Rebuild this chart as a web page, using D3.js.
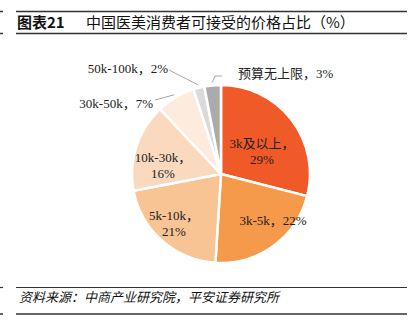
<!DOCTYPE html>
<html><head><meta charset="utf-8">
<script src="https://cdn.jsdelivr.net/npm/d3@7"></script>
<style>body{margin:0;background:#fff}svg{display:block}</style>
</head><body>
<svg id="c" width="413" height="323"></svg>
<script>
const categories = ["3k及以上","3k-5k","5k-10k","10k-30k","30k-50k","50k-100k","预算无上限"];
const values = [29,22,21,16,7,2,3];
const colors = ["#F05A28","#F5994B","#F8C494","#FAD9BF","#FDEBDD","#DADADA","#ABABAB"];

const svg = d3.select("#c");
const cx = 221, cy = 174, R = 89;
const serif = "'Liberation Serif','Noto Sans CJK SC',serif";
const cjk = "'Noto Sans CJK SC','Noto Sans',sans-serif";

// title block
const lineCol = "#333";
[[11.5,1.5],[33.5,1.5],[287.5,1.2],[314,1.5]].forEach(([y,w])=>{
  svg.append("line").attr("x1",16).attr("x2",407).attr("y1",y).attr("y2",y).attr("stroke",lineCol).attr("stroke-width",w);
  svg.append("line").attr("x1",0).attr("x2",3).attr("y1",y).attr("y2",y).attr("stroke",lineCol).attr("stroke-width",w);
});
const t = svg.append("text").attr("y",28).attr("font-family",cjk).attr("font-size",15).attr("fill","#111");
t.append("tspan").attr("x",17).attr("font-weight","bold").text("图表21");
t.append("tspan").attr("x",86).text("中国医美消费者可接受的价格占比（%）");

svg.append("text").attr("x",19).attr("y",302).attr("font-family",cjk).attr("font-size",13)
  .attr("font-style","italic").attr("transform","skewX(0)").attr("fill","#111")
  .text("资料来源：中商产业研究院，平安证券研究所");

// pie
const pie = d3.pie().sort(null).value(d=>d.v);
const data = pie(categories.map((c,i)=>({c, v:values[i], col:colors[i]})));
const arc = d3.arc().innerRadius(0).outerRadius(R);
const g = svg.append("g").attr("transform",`translate(${cx},${cy})`);
g.selectAll("path").data(data).join("path")
  .attr("d",arc).attr("fill",d=>d.data.col)
  .attr("stroke","#fff").attr("stroke-width",2.5).attr("stroke-linejoin","round");

// inside labels
const inside = [
  {i:0, lines:["3k及以上，","29%"], x:262, y:143},
  {i:1, lines:["3k-5k，22%"], x:273, y:220},
  {i:2, lines:["5k-10k，","21%"], x:174, y:215},
  {i:3, lines:["10k-30k，","16%"], x:163, y:157}
];
inside.forEach(l=>{
  const tx = svg.append("text").attr("font-family",serif).attr("font-size",13)
    .attr("fill","#222").attr("text-anchor","middle");
  l.lines.forEach((s,k)=>tx.append("tspan").attr("x",l.x).attr("y",l.y+5+k*16).text(s));
});

// outside labels with leader lines
const pt = (d,r)=>{const a=(d.startAngle+d.endAngle)/2;return [cx+r*Math.sin(a), cy-r*Math.cos(a)];};
const outside = [
  {i:4, text:"30k-50k，7%", tx:153, ty:103, anchor:"end", path:[[155,100]]},
  {i:5, text:"50k-100k，2%", tx:168, ty:68, anchor:"end", path:[[169,70]]},
  {i:6, text:"预算无上限，3%", tx:238, ty:73, anchor:"start", path:[[215,76],[222,76]]}
];
outside.forEach(o=>{
  const d = data[o.i];
  const p0 = pt(d, 92);
  svg.append("path").attr("d", d3.line()([p0, ...o.path]))
    .attr("fill","none").attr("stroke","#A6A6A6").attr("stroke-width",1);
  svg.append("text").attr("x",o.tx).attr("y",o.ty+5).attr("text-anchor",o.anchor)
    .attr("font-family",serif).attr("font-size",13).attr("fill","#222").text(o.text);
});
</script>
</body></html>
